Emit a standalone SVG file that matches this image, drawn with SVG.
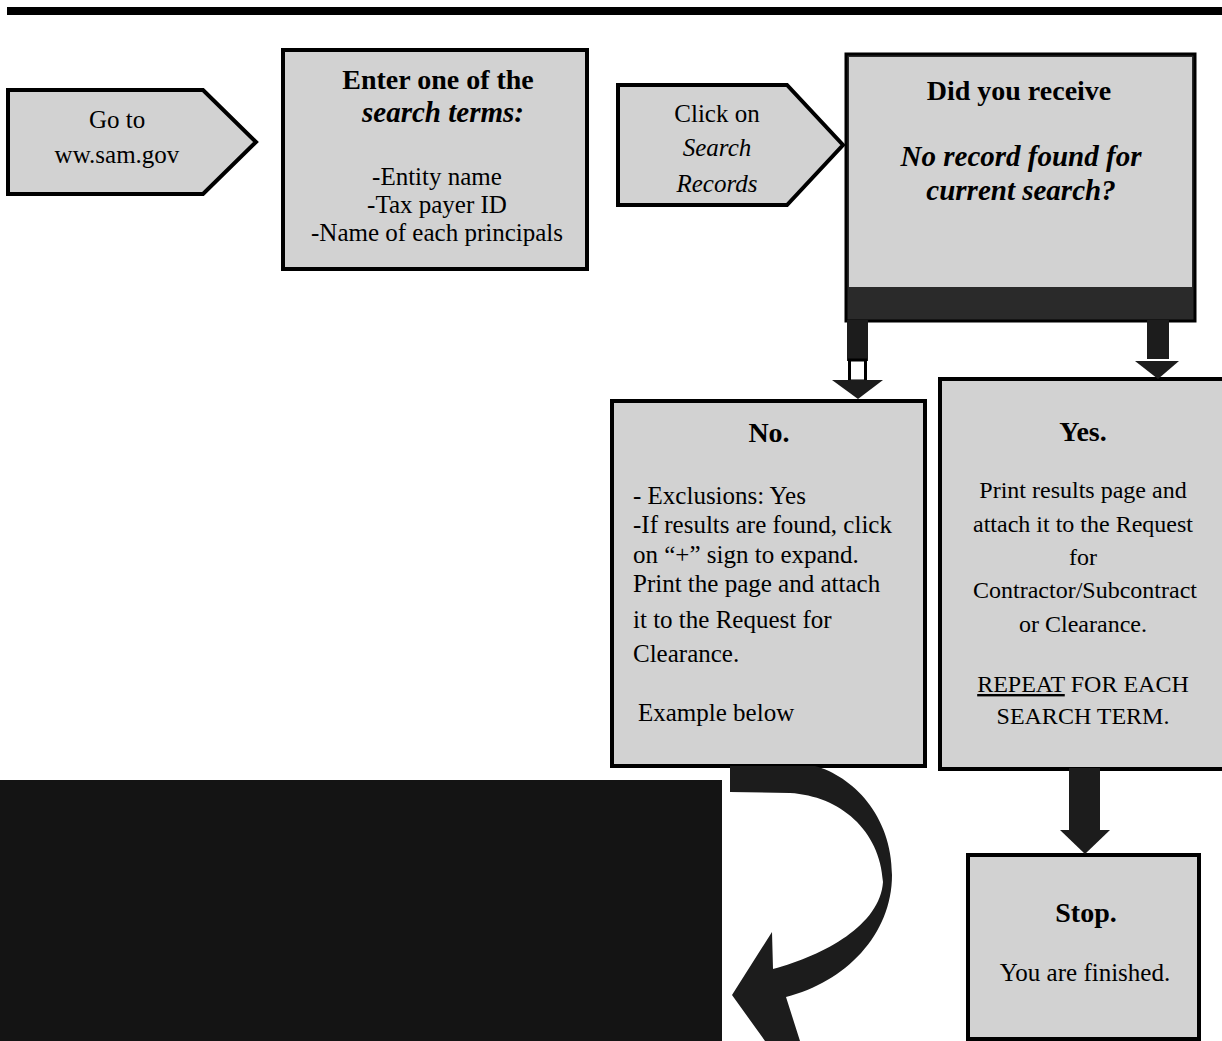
<svg xmlns="http://www.w3.org/2000/svg" width="1222" height="1041" viewBox="0 0 1222 1041">
<style>
.box{fill:#d2d2d2;stroke:#000;stroke-width:4}
.dark{fill:#1c1c1c}
text{font-family:"Liberation Serif","Times New Roman",serif;font-size:25px;fill:#000}
.c{text-anchor:middle}
.s{font-size:24px}
.b{font-weight:bold;font-size:28px}
.bi{font-weight:bold;font-style:italic;font-size:29px}
.i{font-style:italic}
</style>
<rect x="7" y="7" width="1215" height="8" fill="#000"/>
<g id="n1">
<polygon class="box" points="8,90 203,90 256,142 203,194 8,194"/>
<text class="c" x="117" y="128">Go to</text>
<text class="c" x="117" y="163">ww.sam.gov</text>
</g>
<g id="n2">
<rect class="box" x="283" y="50" width="304" height="219"/>
<text class="c b" x="438" y="89">Enter one of the</text>
<text class="c bi" x="443" y="122">search terms:</text>
<text class="c" x="437" y="185">-Entity name</text>
<text class="c" x="437" y="213">-Tax payer ID</text>
<text class="c" x="437" y="241">-Name of each principals</text>
</g>
<g id="n3">
<polygon class="box" points="618,85 787,85 843,145 787,205 618,205"/>
<text class="c" x="717" y="122">Click on</text>
<text class="c i" x="717" y="156">Search</text>
<text class="c i" x="717" y="192">Records</text>
</g>
<g id="n4">
<rect x="846" y="54" width="349" height="267" fill="#2a2a2a" stroke="#000" stroke-width="3"/>
<rect x="849" y="57" width="343" height="230" fill="#d2d2d2"/>
<text class="c b" x="1019" y="100">Did you receive</text>
<text class="c bi" x="1021" y="166">No record found for</text>
<text class="c bi" x="1021" y="200">current search?</text>
</g>
<g id="n5">
<rect class="box" x="612" y="401" width="313" height="365"/>
<text class="c b" x="769" y="442">No.</text>
<text x="633" y="504">- Exclusions: Yes</text>
<text x="633" y="533">-If results are found, click</text>
<text x="633" y="563">on “+” sign to expand.</text>
<text x="633" y="592">Print the page and attach</text>
<text x="633" y="628">it to the Request for</text>
<text x="633" y="662">Clearance.</text>
<text x="638" y="721">Example below</text>
</g>
<g id="n6">
<rect class="box" x="940" y="379" width="284" height="390"/>
<text class="c b" x="1083" y="441">Yes.</text>
<text class="c s" x="1083" y="498">Print results page and</text>
<text class="c s" x="1083" y="532">attach it to the Request</text>
<text class="c s" x="1083" y="565">for</text>
<text class="c s" x="1085" y="598">Contractor/Subcontract</text>
<text class="c s" x="1083" y="632">or Clearance.</text>
<text class="c s" x="1083" y="692"><tspan text-decoration="underline">REPEAT</tspan> FOR EACH</text>
<text class="c s" x="1083" y="724">SEARCH TERM.</text>
</g>
<g id="n7">
<rect class="box" x="968" y="855" width="231" height="184"/>
<text class="c b" x="1086" y="922">Stop.</text>
<text class="c" x="1085" y="981">You are finished.</text>
</g>
<g id="n8">
<rect x="0" y="780" width="722" height="261" fill="#141414"/>
</g>
<g id="connectors">
<rect x="847" y="320" width="21" height="41" class="dark"/>
<rect x="849.5" y="360" width="16" height="21" fill="#fff" stroke="#000" stroke-width="3"/>
<polygon class="dark" points="832,380 883,380 858,399"/>
<rect x="1147" y="320" width="22" height="39" class="dark"/>
<polygon class="dark" points="1135,361 1179,361 1158,379"/>
<rect x="1069" y="768" width="31" height="63" class="dark"/>
<polygon class="dark" points="1060,830 1110,830 1085,854"/>
<path class="dark" d="M730,766 L815,766 C852,776 892,815 892,875 C892,935 845,982 786,997 L800,1041 L765,1041 L732,995 L772,932 L773,969 C825,955 880,925 883,882 C880,830 840,796 790,793 L730,792 Z"/>
</g>
</svg>
